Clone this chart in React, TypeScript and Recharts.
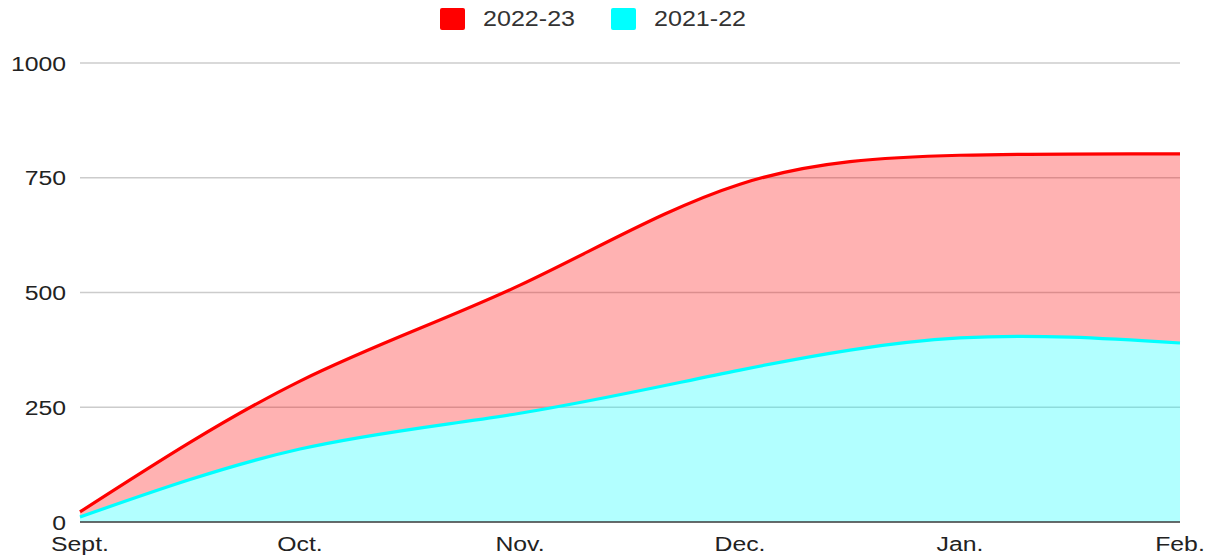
import React from "react";
import {
  ComposedChart,
  Area,
  Line,
  XAxis,
  YAxis,
  CartesianGrid,
} from "recharts";

// Months on the x axis
const months = ["Sept.", "Oct.", "Nov.", "Dec.", "Jan.", "Feb."];

// Cumulative totals
const season2122 = [11, 159, 237, 331, 401, 390];
const season2223 = [22, 307, 516, 736, 799, 802];

const yTicks = [0, 250, 500, 750, 1000];

const RED = "#ff0000";
const CYAN = "#00ffff";

// stacked table: the red band sits on top of the cyan one
const chartData = months.map((m, i) => ({
  month: m,
  s2122: season2122[i],
  band: season2223[i] - season2122[i],
  s2223: season2223[i],
}));

const legendItems = [
  { label: "2022-23", color: RED },
  { label: "2021-22", color: CYAN },
];

const font = "'Liberation Sans', Arial, sans-serif";
const STRETCH = 1.18; // the reference text is a little wide

const XTick = ({ x, y, payload }: any) => (
  <text
    x={x}
    y={y + 14}
    textAnchor="middle"
    fill="#222"
    fontSize={21}
    fontFamily={font}
    transform={`translate(${x},0) scale(${STRETCH},1) translate(${-x},0)`}
  >
    {payload.value}
  </text>
);

const YTick = ({ x, y, payload }: any) => (
  <text
    x={x}
    y={y}
    dy="0.36em"
    textAnchor="end"
    fill="#222"
    fontSize={21}
    fontFamily={font}
    transform={`translate(${x},0) scale(${STRETCH},1) translate(${-x},0)`}
  >
    {payload.value}
  </text>
);

export default function App() {
  return (
    <div
      style={{
        position: "absolute",
        left: 0,
        top: 0,
        width: 1217,
        height: 559,
        background: "#fff",
        fontFamily: font,
      }}
    >
      {/* legend */}
      {legendItems.map((it, i) => (
        <div
          key={it.label}
          style={{
            position: "absolute",
            top: 8,
            left: 440 + i * 171,
            height: 22,
            display: "flex",
            alignItems: "center",
          }}
        >
          <span
            style={{
              display: "inline-block",
              width: 25,
              height: 22,
              borderRadius: 2,
              background: it.color,
            }}
          />
          <span
            style={{
              display: "inline-block",
              marginLeft: 18,
              fontSize: 22,
              lineHeight: "22px",
              color: "#333",
              transform: "scaleX(1.14)",
              transformOrigin: "left center",
              whiteSpace: "nowrap",
            }}
          >
            {it.label}
          </span>
        </div>
      ))}

      <ComposedChart
        width={1217}
        height={559}
        data={chartData}
        margin={{ top: 63, right: 37, left: 0, bottom: 0 }}
      >
        <CartesianGrid vertical={false} stroke="#cccccc" strokeWidth={1.3} />
        <XAxis
          dataKey="month"
          height={37}
          axisLine={{ stroke: "#444", strokeWidth: 1.3 }}
          tickLine={false}
          tickSize={8}
          tickMargin={7}
          interval={0}
          tick={<XTick />}
        />
        <YAxis
          width={80}
          domain={[0, 1000]}
          ticks={yTicks}
          axisLine={false}
          tickLine={false}
          tickSize={6}
          tickMargin={8}
          tick={<YTick />}
        />
        <Area
          type="natural"
          dataKey="s2122"
          stackId="a"
          stroke="none"
          fill={CYAN}
          fillOpacity={0.3}
          isAnimationActive={false}
        />
        <Area
          type="natural"
          dataKey="band"
          stackId="a"
          stroke="none"
          fill={RED}
          fillOpacity={0.3}
          isAnimationActive={false}
        />
        <Line
          type="natural"
          dataKey="s2223"
          stroke={RED}
          strokeWidth={3.2}
          dot={false}
          isAnimationActive={false}
        />
        <Line
          type="natural"
          dataKey="s2122"
          stroke={CYAN}
          strokeWidth={3.2}
          dot={false}
          isAnimationActive={false}
        />
      </ComposedChart>
    </div>
  );
}
